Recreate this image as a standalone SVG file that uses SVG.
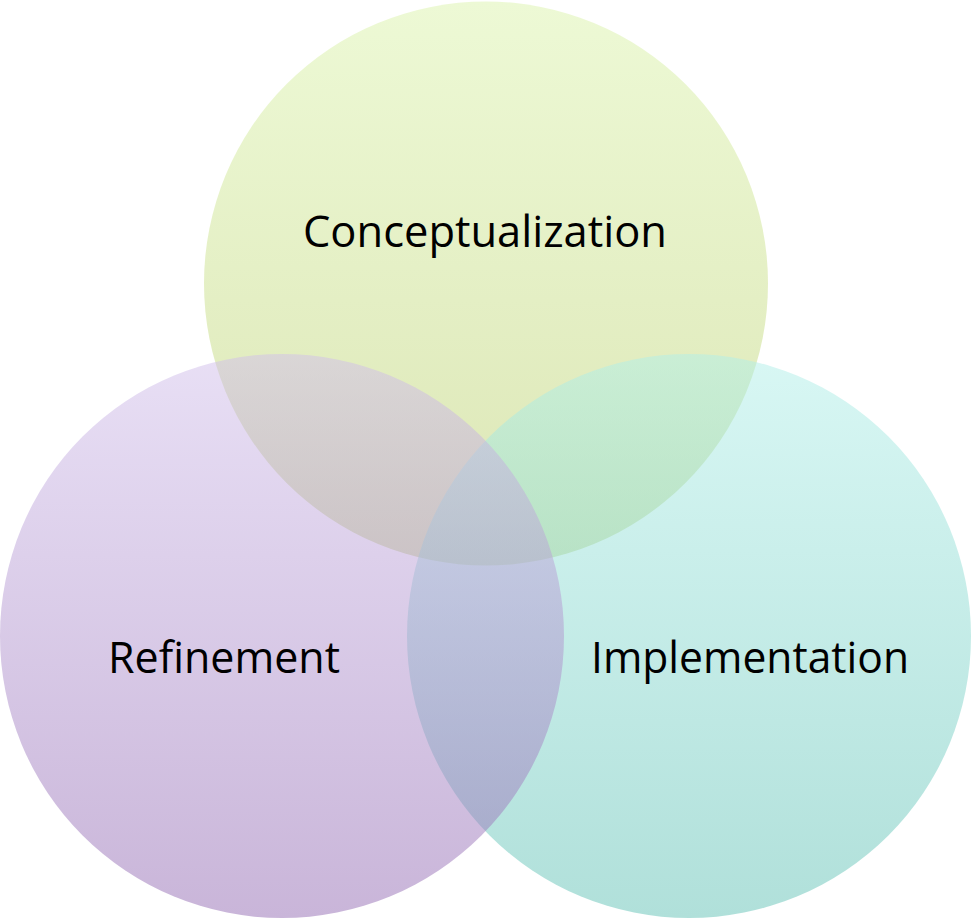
<svg xmlns="http://www.w3.org/2000/svg" width="972" height="921" viewBox="0 0 972 921">
<defs>
<linearGradient id="gG" x1="0" y1="0" x2="0" y2="1">
<stop offset="0" stop-color="#dbf3ab" stop-opacity="0.5"/>
<stop offset="1" stop-color="#b9cd6b" stop-opacity="0.5"/>
</linearGradient>
<linearGradient id="gP" x1="0" y1="0" x2="0" y2="1">
<stop offset="0" stop-color="#d1bfeb" stop-opacity="0.5"/>
<stop offset="1" stop-color="#936bb3" stop-opacity="0.5"/>
</linearGradient>
<linearGradient id="gT" x1="0" y1="0" x2="0" y2="1">
<stop offset="0" stop-color="#b1efe9" stop-opacity="0.5"/>
<stop offset="1" stop-color="#61c1b5" stop-opacity="0.5"/>
</linearGradient>
<style>
.lbl{font-family:"Open Sans","Noto Sans","Liberation Sans",sans-serif;font-size:43px;fill:#000;text-anchor:middle}
</style>
</defs>
<rect width="972" height="921" fill="#ffffff"/>
<g id="conceptualization">
<circle cx="486" cy="283.5" r="282" fill="url(#gG)"/>
</g>
<g id="implementation">
<circle cx="689" cy="636" r="282" fill="url(#gT)"/>
</g>
<g id="refinement">
<circle cx="282" cy="636" r="282" fill="url(#gP)"/>
</g>
<g id="labels">
<text class="lbl" x="485" y="247" textLength="364" lengthAdjust="spacingAndGlyphs">Conceptualization</text>
<text class="lbl" x="224" y="673" textLength="232" lengthAdjust="spacingAndGlyphs">Refinement</text>
<text class="lbl" x="750" y="673" textLength="318" lengthAdjust="spacingAndGlyphs">Implementation</text>
</g>
<g id="connectors"/>
</svg>
